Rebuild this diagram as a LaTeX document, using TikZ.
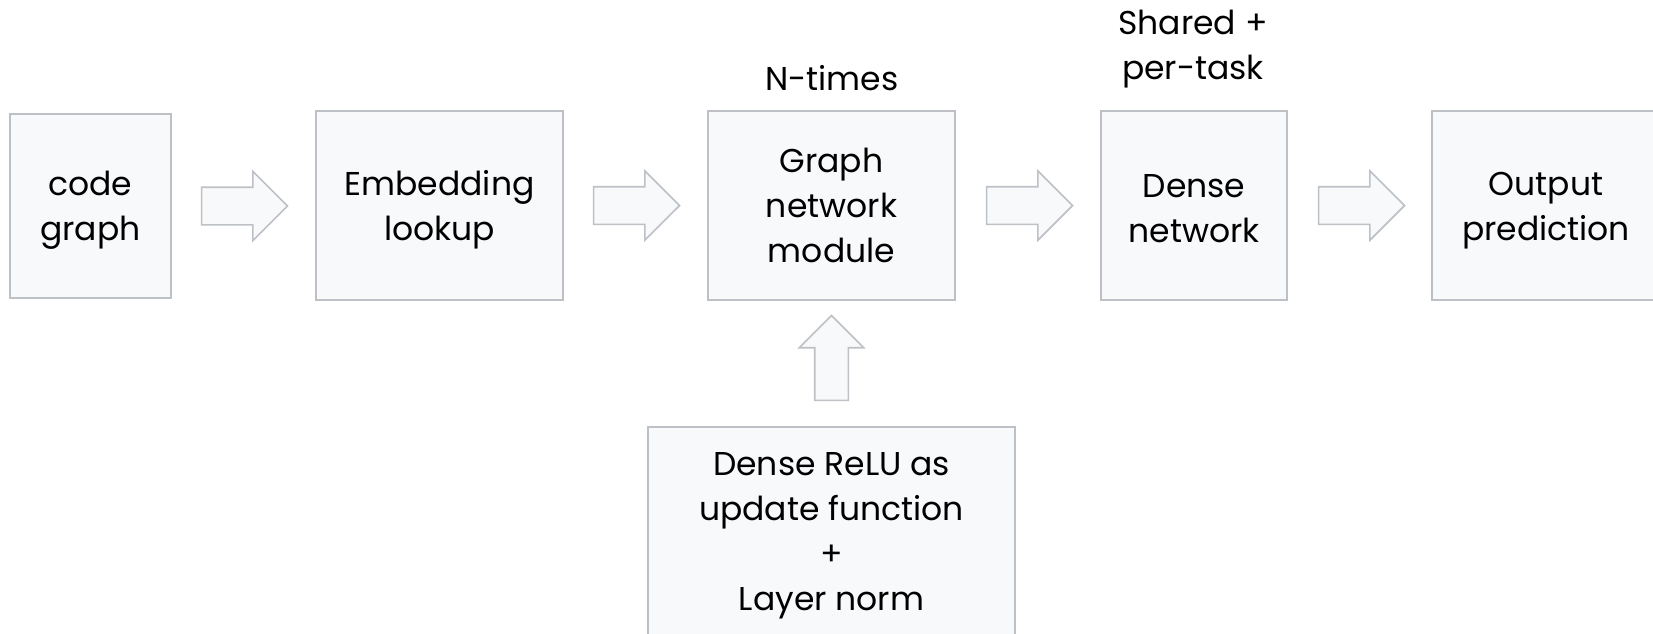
\documentclass[tikz,border=0pt]{standalone}
\usepackage{fontspec}
\setmainfont{Poppins}
\usetikzlibrary{shapes.arrows,calc}
\definecolor{boxfill}{HTML}{F8F9FA}
\definecolor{boxline}{HTML}{BDC1C6}
\newcommand{\tallstrut}{\rule{0pt}{33pt}}
\newcommand{\midstrut}{\rule{0pt}{29pt}}
\tikzset{
  blk/.style={draw=boxline, fill=boxfill, line width=1.6pt, inner sep=0pt, align=center, font=\fontsize{33}{45}\selectfont},
  barrow/.style={single arrow, draw=boxline, fill=boxfill, line width=1.6pt, inner sep=18pt, anchor=tail,
     minimum width=68pt, minimum height=86pt, single arrow head extend=16pt},
  lbl/.style={align=center, font=\fontsize{33}{45}\selectfont, inner sep=0pt}
}
\begin{document}
\begin{tikzpicture}[x=1pt, y=-1pt]
\useasboundingbox (0,0) rectangle (1653,633);
\node[blk, minimum width=161pt, minimum height=184pt] (code) at (90.5,206) {\tallstrut code\\graph};
\node[blk, minimum width=247pt, minimum height=189pt] (emb) at (439.5,205.5) {\tallstrut Embedding\\lookup};
\node[blk, minimum width=247pt, minimum height=189pt] (gnm) at (831.5,205.5) {Graph\\network\\module};
\node[blk, minimum width=186pt, minimum height=189pt] (dense) at (1194,205.5) {\midstrut Dense\\network};
\node[blk, minimum width=228pt, minimum height=189pt] (out) at (1546,205.5) {\tallstrut Output\\prediction};
\node[blk, minimum width=367pt, minimum height=208pt] (relu) at (831.5,531) {\tallstrut Dense ReLU as\\update function\\+\\Layer norm};
\node[lbl] (ntimes) at (832,78) {N-times};
\node[lbl] (shared) at (1193,49) {Shared +\\per-task};
\node[barrow] (a1) at ($(code.east)+(29,0)$) {};
\node[barrow] (a2) at ($(emb.east)+(29,0)$) {};
\node[barrow] (a3) at ($(gnm.east)+(30,0)$) {};
\node[barrow] (a4) at ($(dense.east)+(30,0)$) {};
\node[barrow, shape border rotate=90, inner sep=16pt, minimum width=63pt, minimum height=85pt, single arrow head extend=15.5pt] (up) at ($(relu.north)+(0,-25)$) {};
\end{tikzpicture}
\end{document}
